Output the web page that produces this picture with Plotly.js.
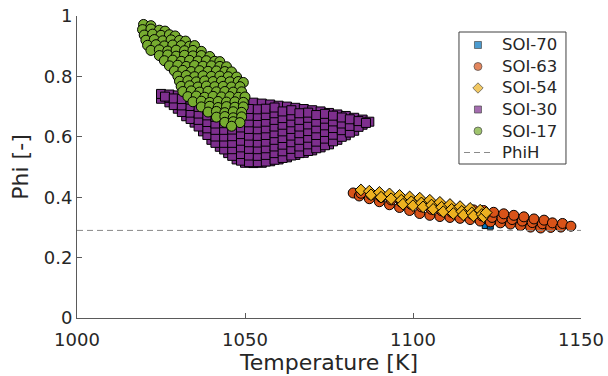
<!DOCTYPE html>
<html>
<head>
<meta charset="utf-8">
<script src="https://cdn.plot.ly/plotly-3.0.1.min.js"></script>
<style>html,body{margin:0;padding:0;background:#fff;}#chart{width:608px;height:376px;}</style>
</head>
<body>
<div id="chart"></div>
<script>
// ---- data ----
var seriesNames = ['SOI-70', 'SOI-63', 'SOI-54', 'SOI-30', 'SOI-17'];
var lineName = 'PhiH';

var soi70_T   = [1121.5, 1123.0];
var soi70_phi = [0.306, 0.304];

var soi63_T = [1082.2, 1084.0, 1084.5, 1087.0, 1087.5, 1090.0, 1090.5, 1093.0, 1093.5, 1096.0, 1096.5,
  1099.0, 1099.5, 1102.0, 1102.5, 1105.0, 1105.5, 1108.0, 1108.5, 1111.0, 1111.5, 1114.0, 1114.5,
  1117.0, 1117.5, 1118.0, 1120.0, 1120.5, 1121.0, 1123.0, 1123.5, 1124.0, 1126.0, 1126.5, 1127.0,
  1129.0, 1129.5, 1130.0, 1132.0, 1132.5, 1133.0, 1135.0, 1135.5, 1136.0, 1138.0, 1138.5, 1139.0,
  1141.0, 1141.5, 1144.0, 1144.5, 1147.0];
var soi63_phi = [0.414, 0.404, 0.413, 0.395, 0.408, 0.385, 0.400, 0.375, 0.391, 0.366, 0.384,
  0.356, 0.376, 0.346, 0.368, 0.340, 0.360, 0.336, 0.355, 0.333, 0.350, 0.330, 0.349,
  0.326, 0.344, 0.358, 0.321, 0.338, 0.356, 0.318, 0.333, 0.350, 0.315, 0.330, 0.345,
  0.311, 0.326, 0.340, 0.306, 0.321, 0.335, 0.301, 0.316, 0.328, 0.298, 0.312, 0.324,
  0.300, 0.315, 0.301, 0.313, 0.304];

var soi54_T = [1084.5, 1087.0, 1087.5, 1090.0, 1090.5, 1093.0, 1093.5, 1096.0, 1096.5, 1097.0,
  1099.0, 1099.5, 1100.0, 1102.0, 1102.5, 1103.0, 1105.0, 1105.5, 1106.0, 1108.0, 1108.5, 1109.0,
  1111.0, 1111.5, 1112.0, 1114.0, 1114.5, 1115.0, 1117.0, 1117.5, 1118.0, 1120.0, 1120.5, 1121.0, 1121.8];
var soi54_phi = [0.424, 0.420, 0.408, 0.416, 0.400, 0.411, 0.395, 0.406, 0.390, 0.377,
  0.401, 0.385, 0.372, 0.397, 0.381, 0.368, 0.390, 0.374, 0.360, 0.383, 0.367, 0.352,
  0.376, 0.360, 0.346, 0.369, 0.353, 0.341, 0.363, 0.348, 0.338, 0.357, 0.343, 0.335, 0.349];

var soi30_T = [
  1025.0, 1025.0,
  1027.5, 1027.5, 1027.5,
  1030.0, 1030.0, 1030.0,
  1032.5, 1032.5, 1032.5, 1032.5,
  1035.0, 1035.0, 1035.0, 1035.0, 1035.0,
  1037.5, 1037.5, 1037.5, 1037.5, 1037.5, 1037.5,
  1040.0, 1040.0, 1040.0, 1040.0, 1040.0, 1040.0, 1040.0,
  1042.5, 1042.5, 1042.5, 1042.5, 1042.5, 1042.5, 1042.5, 1042.5,
  1045.0, 1045.0, 1045.0, 1045.0, 1045.0, 1045.0, 1045.0, 1045.0, 1045.0,
  1047.5, 1047.5, 1047.5, 1047.5, 1047.5, 1047.5, 1047.5, 1047.5, 1047.5, 1047.5,
  1050.0, 1050.0, 1050.0, 1050.0, 1050.0, 1050.0, 1050.0, 1050.0, 1050.0, 1050.0,
  1052.5, 1052.5, 1052.5, 1052.5, 1052.5, 1052.5, 1052.5, 1052.5, 1052.5, 1052.5,
  1055.0, 1055.0, 1055.0, 1055.0, 1055.0, 1055.0, 1055.0, 1055.0, 1055.0, 1055.0,
  1057.5, 1057.5, 1057.5, 1057.5, 1057.5, 1057.5, 1057.5, 1057.5, 1057.5, 1057.5,
  1060.0, 1060.0, 1060.0, 1060.0, 1060.0, 1060.0, 1060.0, 1060.0, 1060.0,
  1062.5, 1062.5, 1062.5, 1062.5, 1062.5, 1062.5, 1062.5, 1062.5, 1062.5,
  1065.0, 1065.0, 1065.0, 1065.0, 1065.0, 1065.0, 1065.0, 1065.0,
  1067.5, 1067.5, 1067.5, 1067.5, 1067.5, 1067.5, 1067.5, 1067.5,
  1070.0, 1070.0, 1070.0, 1070.0, 1070.0, 1070.0, 1070.0,
  1072.5, 1072.5, 1072.5, 1072.5, 1072.5, 1072.5, 1072.5,
  1075.0, 1075.0, 1075.0, 1075.0, 1075.0, 1075.0,
  1077.5, 1077.5, 1077.5, 1077.5, 1077.5,
  1080.0, 1080.0, 1080.0, 1080.0,
  1082.5, 1082.5, 1082.5,
  1085.0, 1085.0,
  1087.0,
  1026.2,
  1028.8, 1028.8,
  1031.2, 1031.2, 1031.2,
  1033.8, 1033.8, 1033.8, 1033.8,
  1036.2, 1036.2, 1036.2, 1036.2, 1036.2,
  1038.8, 1038.8, 1038.8, 1038.8, 1038.8, 1038.8,
  1041.2, 1041.2, 1041.2, 1041.2, 1041.2, 1041.2, 1041.2,
  1043.8, 1043.8, 1043.8, 1043.8, 1043.8, 1043.8, 1043.8, 1043.8,
  1046.2, 1046.2, 1046.2, 1046.2, 1046.2, 1046.2, 1046.2, 1046.2, 1046.2,
  1048.8, 1048.8, 1048.8, 1048.8, 1048.8, 1048.8, 1048.8, 1048.8, 1048.8,
  1051.2, 1051.2, 1051.2, 1051.2, 1051.2, 1051.2, 1051.2, 1051.2, 1051.2,
  1053.8, 1053.8, 1053.8, 1053.8, 1053.8, 1053.8, 1053.8, 1053.8, 1053.8,
  1056.2, 1056.2, 1056.2, 1056.2, 1056.2, 1056.2, 1056.2, 1056.2, 1056.2,
  1058.8, 1058.8, 1058.8, 1058.8, 1058.8, 1058.8, 1058.8, 1058.8, 1058.8,
  1061.2, 1061.2, 1061.2, 1061.2, 1061.2, 1061.2, 1061.2, 1061.2,
  1063.8, 1063.8, 1063.8, 1063.8, 1063.8, 1063.8, 1063.8, 1063.8,
  1066.2, 1066.2, 1066.2, 1066.2, 1066.2, 1066.2, 1066.2,
  1068.8, 1068.8, 1068.8, 1068.8, 1068.8, 1068.8, 1068.8,
  1071.2, 1071.2, 1071.2, 1071.2, 1071.2, 1071.2,
  1073.8, 1073.8, 1073.8, 1073.8, 1073.8, 1073.8,
  1076.2, 1076.2, 1076.2, 1076.2, 1076.2,
  1078.8, 1078.8, 1078.8, 1078.8,
  1081.2, 1081.2, 1081.2,
  1083.8, 1083.8,
  1086.0];
var soi30_phi = [
  0.726, 0.742,
  0.714, 0.729, 0.740,
  0.693, 0.715, 0.737,
  0.668, 0.690, 0.711, 0.734,
  0.647, 0.669, 0.690, 0.712, 0.732,
  0.618, 0.641, 0.662, 0.685, 0.706, 0.729,
  0.590, 0.612, 0.635, 0.656, 0.678, 0.701, 0.727,
  0.567, 0.589, 0.612, 0.633, 0.655, 0.678, 0.699, 0.724,
  0.546, 0.569, 0.590, 0.613, 0.634, 0.657, 0.678, 0.701, 0.722,
  0.525, 0.547, 0.570, 0.591, 0.614, 0.635, 0.658, 0.679, 0.700, 0.719,
  0.514, 0.537, 0.558, 0.581, 0.602, 0.625, 0.646, 0.669, 0.690, 0.716,
  0.513, 0.534, 0.557, 0.578, 0.601, 0.622, 0.645, 0.666, 0.689, 0.713,
  0.514, 0.537, 0.558, 0.581, 0.602, 0.625, 0.646, 0.669, 0.690, 0.710,
  0.519, 0.540, 0.563, 0.584, 0.607, 0.628, 0.651, 0.672, 0.694, 0.707,
  0.525, 0.548, 0.569, 0.592, 0.613, 0.636, 0.657, 0.680, 0.703,
  0.532, 0.553, 0.576, 0.597, 0.620, 0.641, 0.664, 0.685, 0.700,
  0.540, 0.563, 0.584, 0.607, 0.628, 0.651, 0.672, 0.696,
  0.547, 0.568, 0.591, 0.612, 0.635, 0.656, 0.679, 0.692,
  0.555, 0.578, 0.599, 0.622, 0.643, 0.666, 0.688,
  0.565, 0.586, 0.609, 0.630, 0.653, 0.674, 0.684,
  0.575, 0.598, 0.619, 0.642, 0.663, 0.679,
  0.590, 0.611, 0.634, 0.655, 0.674,
  0.605, 0.628, 0.649, 0.669,
  0.620, 0.641, 0.663,
  0.640, 0.657,
  0.650,
  0.733,
  0.705, 0.727,
  0.682, 0.704, 0.725,
  0.659, 0.680, 0.702, 0.723,
  0.634, 0.656, 0.677, 0.699, 0.720,
  0.606, 0.628, 0.649, 0.671, 0.692, 0.715,
  0.580, 0.601, 0.623, 0.644, 0.666, 0.688, 0.711,
  0.558, 0.580, 0.601, 0.623, 0.645, 0.667, 0.689, 0.711,
  0.537, 0.559, 0.580, 0.602, 0.624, 0.646, 0.668, 0.690, 0.709,
  0.521, 0.543, 0.565, 0.587, 0.609, 0.631, 0.653, 0.675, 0.697,
  0.516, 0.538, 0.560, 0.582, 0.604, 0.626, 0.648, 0.670, 0.692,
  0.516, 0.537, 0.559, 0.581, 0.603, 0.625, 0.647, 0.669, 0.691,
  0.518, 0.540, 0.562, 0.584, 0.606, 0.628, 0.650, 0.672, 0.693,
  0.524, 0.546, 0.568, 0.590, 0.612, 0.634, 0.656, 0.678, 0.697,
  0.530, 0.552, 0.574, 0.596, 0.618, 0.640, 0.662, 0.684,
  0.538, 0.560, 0.582, 0.604, 0.626, 0.648, 0.670, 0.688,
  0.546, 0.568, 0.590, 0.612, 0.634, 0.656, 0.678,
  0.553, 0.575, 0.597, 0.619, 0.641, 0.663, 0.680,
  0.562, 0.584, 0.606, 0.628, 0.650, 0.672,
  0.572, 0.594, 0.616, 0.638, 0.660, 0.676,
  0.585, 0.607, 0.629, 0.651, 0.670,
  0.600, 0.622, 0.644, 0.664,
  0.614, 0.636, 0.658,
  0.633, 0.652,
  0.646];

var soi17_T = [
  1019.8, 1022.0,
  1019.5, 1022.0, 1024.5, 1026.2,
  1020.0, 1022.5, 1025.0, 1027.5, 1029.2,
  1020.5, 1023.0, 1025.5, 1028.0, 1030.5, 1032.3,
  1021.0, 1023.5, 1026.0, 1028.5, 1031.0, 1033.5, 1035.0,
  1022.0, 1024.5, 1027.0, 1029.5, 1032.0, 1034.5, 1037.0,
  1024.5, 1027.0, 1029.5, 1032.0, 1034.5, 1037.0, 1039.5,
  1026.0, 1028.5, 1031.0, 1033.5, 1036.0, 1038.5, 1041.0, 1042.5,
  1027.5, 1030.0, 1032.5, 1035.0, 1037.5, 1040.0, 1042.5, 1044.5,
  1029.0, 1031.5, 1034.0, 1036.5, 1039.0, 1041.5, 1044.0, 1046.0,
  1030.0, 1032.5, 1035.0, 1037.5, 1040.0, 1042.5, 1045.0, 1047.5,
  1030.5, 1033.0, 1035.5, 1038.0, 1040.5, 1043.0, 1045.5, 1048.0, 1049.5,
  1031.0, 1033.5, 1036.0, 1038.5, 1041.0, 1043.5, 1046.0, 1048.5,
  1031.5, 1034.0, 1036.5, 1039.0, 1041.5, 1044.0, 1046.5, 1049.0,
  1033.0, 1035.5, 1038.0, 1040.5, 1043.0, 1045.5, 1048.0, 1050.0,
  1034.5, 1037.0, 1039.5, 1042.0, 1044.5, 1047.0, 1049.5,
  1037.0, 1039.5, 1042.0, 1044.5, 1047.0, 1049.5,
  1039.0, 1041.5, 1044.0, 1046.5, 1049.0,
  1041.5, 1044.0, 1046.5, 1049.0,
  1044.0, 1046.5, 1048.5,
  1046.0];
var soi17_phi = [
  0.972, 0.968,
  0.955, 0.957, 0.953, 0.950,
  0.937, 0.940, 0.936, 0.938, 0.934,
  0.920, 0.922, 0.918, 0.921, 0.919, 0.917,
  0.903, 0.905, 0.901, 0.904, 0.902, 0.900, 0.902,
  0.886, 0.888, 0.884, 0.887, 0.885, 0.886, 0.883,
  0.869, 0.871, 0.867, 0.870, 0.868, 0.869, 0.866,
  0.852, 0.854, 0.850, 0.853, 0.851, 0.852, 0.850, 0.849,
  0.835, 0.837, 0.833, 0.836, 0.834, 0.835, 0.833, 0.832,
  0.818, 0.820, 0.816, 0.819, 0.817, 0.818, 0.816, 0.815,
  0.801, 0.803, 0.799, 0.802, 0.800, 0.801, 0.799, 0.798,
  0.784, 0.786, 0.782, 0.785, 0.783, 0.784, 0.782, 0.783, 0.780,
  0.767, 0.769, 0.765, 0.768, 0.766, 0.767, 0.765, 0.766,
  0.750, 0.752, 0.748, 0.751, 0.749, 0.750, 0.748, 0.749,
  0.733, 0.735, 0.731, 0.734, 0.732, 0.733, 0.731, 0.732,
  0.716, 0.718, 0.714, 0.717, 0.715, 0.716, 0.714,
  0.699, 0.701, 0.697, 0.700, 0.698, 0.699,
  0.682, 0.684, 0.680, 0.683, 0.681,
  0.665, 0.667, 0.663, 0.666,
  0.648, 0.650, 0.647,
  0.635];

var phiH_T   = [1000, 1150];
var phiH_val = [0.29, 0.29];

var xTicks = [1000, 1050, 1100, 1150];
var yTicks = [0, 0.2, 0.4, 0.6, 0.8, 1];
var yTickText = ['0', '0.2', '0.4', '0.6', '0.8', '1'];

// ---- styling ----
var colors = ['#0072BD', '#D95319', '#EDB120', '#7E2F8E', '#77AC30'];
var symbols = ['square', 'circle', 'diamond', 'square', 'circle'];
var sizes = [6, 10, 9, 9, 10];
var xs = [soi70_T, soi63_T, soi54_T, soi30_T, soi17_T];
var ys = [soi70_phi, soi63_phi, soi54_phi, soi30_phi, soi17_phi];
var axisColor = '#5a5a5a';
var textColor = '#262626';
var phiHColor = '#8a8a8a';

var traces = [];
for (var i = 0; i < seriesNames.length; i++) {
  traces.push({
    type: 'scatter', mode: 'markers', x: xs[i], y: ys[i], name: seriesNames[i],
    showlegend: false, hoverinfo: 'skip',
    marker: {symbol: symbols[i], size: sizes[i], color: colors[i], line: {color: '#000', width: 1}}
  });
}
traces.push({
  type: 'scatter', mode: 'lines', x: phiH_T, y: phiH_val, name: lineName, showlegend: false,
  line: {color: phiHColor, width: 1, dash: '6px,4px'}, hoverinfo: 'skip'
});

// ---- legend box (MATLAB style), positioned in paper fractions ----
var legBox = {x0: 0.7579, x1: 0.9702, y0: 0.5099, y1: 0.9470};
var legRowY = [0.9040, 0.8328, 0.7616, 0.6904, 0.6192, 0.5480];
var legSymX = 0.7956, legTextX = 0.8393, legLineX0 = 0.7679, legLineX1 = 0.8274;

traces.push({
  type: 'scatter', mode: 'markers', xaxis: 'x2', yaxis: 'y2', showlegend: false, hoverinfo: 'skip',
  x: seriesNames.map(function () { return legSymX; }),
  y: legRowY.slice(0, seriesNames.length),
  marker: {symbol: symbols, color: colors, size: [7, 8, 8, 7, 8], line: {color: '#000', width: 0.7}}
});

var annotations = [];
var legendLabels = seriesNames.concat([lineName]);
for (var k = 0; k < legendLabels.length; k++) {
  annotations.push({
    xref: 'paper', yref: 'paper', x: legTextX, y: legRowY[k], xanchor: 'left', yanchor: 'middle',
    text: legendLabels[k], showarrow: false, font: {family: 'DejaVu Sans', size: 16.5, color: textColor}
  });
}
var shapes = [
  {type: 'rect', xref: 'paper', yref: 'paper', x0: legBox.x0, x1: legBox.x1, y0: legBox.y0, y1: legBox.y1,
   line: {color: '#404040', width: 1}, fillcolor: 'rgba(0,0,0,0)', layer: 'above'},
  {type: 'line', xref: 'paper', yref: 'paper', x0: legLineX0, x1: legLineX1, y0: legRowY[5], y1: legRowY[5],
   line: {color: phiHColor, width: 1, dash: '6px,4px'}, layer: 'above'}
];

var layout = {
  width: 608, height: 376,
  margin: {l: 77, r: 27, t: 16, b: 58},
  paper_bgcolor: '#fff', plot_bgcolor: '#fff',
  font: {family: 'DejaVu Sans', color: textColor, size: 18},
  showlegend: false,
  xaxis: {
    range: [1000, 1150], tickvals: xTicks, ticks: 'inside', ticklen: 5, tickcolor: axisColor,
    showline: true, linecolor: axisColor, linewidth: 1, showgrid: false, zeroline: false,
    tickfont: {size: 18, color: textColor}, ticklabelstandoff: 5,
    title: {text: 'Temperature [K]', font: {size: 22, color: textColor}, standoff: 0}
  },
  yaxis: {
    range: [0, 1], tickvals: yTicks, ticktext: yTickText, ticks: 'inside', ticklen: 5, tickcolor: axisColor,
    showline: true, linecolor: axisColor, linewidth: 1, showgrid: false, zeroline: false,
    tickfont: {size: 18, color: textColor},
    title: {text: 'Phi [-]', font: {size: 22, color: textColor}, standoff: 9}
  },
  xaxis2: {overlaying: 'x', range: [0, 1], visible: false, fixedrange: true},
  yaxis2: {overlaying: 'y', range: [0, 1], visible: false, fixedrange: true},
  shapes: shapes,
  annotations: annotations
};

Plotly.newPlot('chart', traces, layout, {displayModeBar: false, staticPlot: true});
</script>
</body>
</html>
